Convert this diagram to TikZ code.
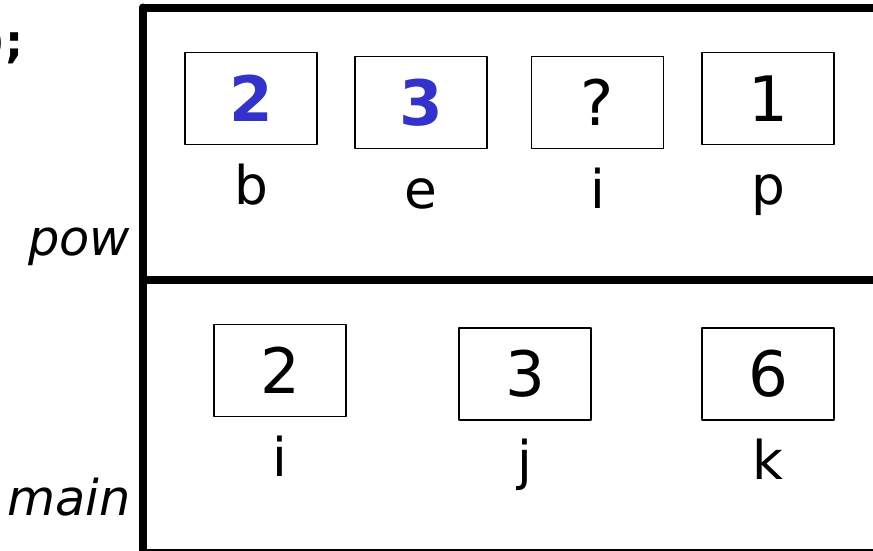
\documentclass[tikz,border=0pt]{standalone}
\usepackage{fontspec}
\setmainfont{DejaVu Sans}
\usepackage{tikz}
\usetikzlibrary{positioning}
\definecolor{newblue}{RGB}{51,51,204}
\tikzset{
  cell/.style={draw=black,line width=1.4pt,minimum width=99pt,minimum height=69pt,inner sep=0pt,font=\fontsize{47}{47}\selectfont},
  newval/.style={text=newblue,font=\fontsize{47}{47}\selectfont\bfseries},
  varname/.style={below=44pt of #1,anchor=base,font=\fontsize{40}{40}\selectfont},
  framestroke/.style={line width=6pt},
  fname/.style={anchor=base east,font=\fontsize{37}{37}\selectfont\itshape}
}
\begin{document}
\begin{tikzpicture}[line cap=round,line join=round,x=0.75pt,y=-0.75pt]
\useasboundingbox (0,0) rectangle (873,550);
\clip (0,0) rectangle (873,550);
% call stack frames
\draw[framestroke] (143,7.5) -- (873,7.5);
\draw[framestroke] (143,7.5) -- (143,553);
\draw[framestroke] (143,280) -- (873,280);
\draw[framestroke] (143,553) -- (873,553);
\node[anchor=base east,inner sep=0pt,font=\fontsize{34}{34}\selectfont\bfseries] (tail) at (24,57) {);};
\node[fname] (pow) at (135,255) {pow};
\node[fname] (main) at (135,515) {main};
% pow
\node[cell,newval] (powb) at (251,98.5) {2};
\node[cell,newval] (powe) at (421,102.5) {3};
\node[cell] (powi) at (597.5,102.5) {?};
\node[cell] (powp) at (768,98.5) {1};
\node[varname=powb] (powbname) {b};
\node[varname=powe] (powename) {e};
\node[varname=powi] (powiname) {i};
\node[varname=powp] (powpname) {p};
% main
\node[cell] (maini) at (280,370.5) {2};
\node[cell] (mainj) at (525,374) {3};
\node[cell] (maink) at (768,374) {6};
\node[varname=maini] (maininame) {i};
\node[varname=mainj] (mainjname) {j};
\node[varname=maink] (mainkname) {k};
\end{tikzpicture}
\end{document}
